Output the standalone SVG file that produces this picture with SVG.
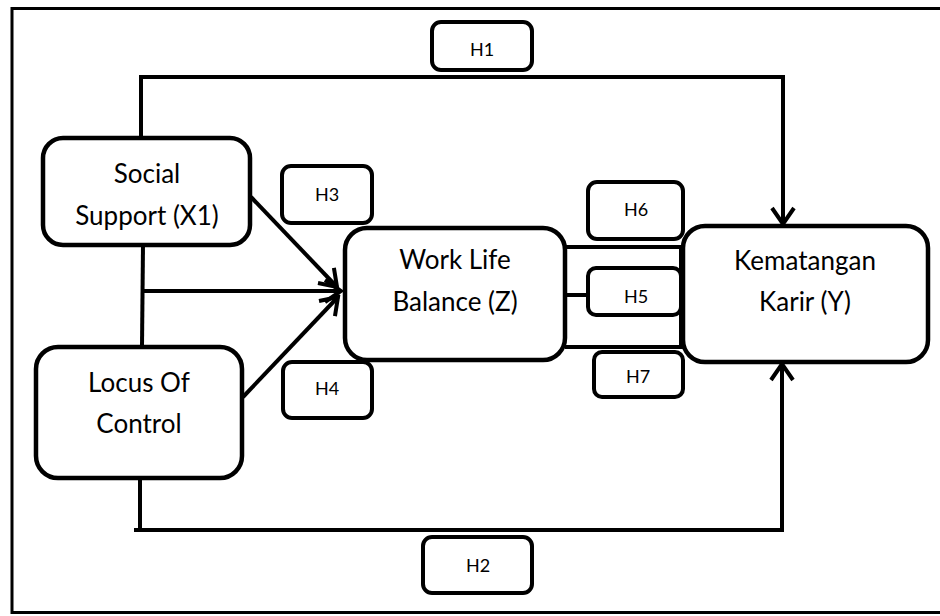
<svg xmlns="http://www.w3.org/2000/svg" width="940" height="616" viewBox="0 0 940 616">
<defs>
<style>
.node{fill:#fff;stroke:#000;stroke-width:4.5}
.hbox{fill:#fff;stroke:#000;stroke-width:4}
.lbl{font-family:Lato,"Open Sans",sans-serif;font-size:26px;fill:#000;text-anchor:middle}
.hl{font-family:Lato,"Open Sans",sans-serif;font-size:18px;fill:#000;text-anchor:middle}
.ln{fill:none;stroke:#000;stroke-width:4}
</style>
<marker id="arr" viewBox="0 0 22 26" refX="19" refY="13" markerWidth="22" markerHeight="26" markerUnits="userSpaceOnUse" orient="auto">
<path d="M3,2 L19,13 L3,24" fill="none" stroke="#000" stroke-width="4"/>
</marker>
</defs>
<rect width="940" height="616" fill="#fff"/>
<rect x="12" y="8.5" width="940" height="604" fill="none" stroke="#000" stroke-width="3"/>
<g id="connectors">
<polyline class="ln" points="141,140 141,77 783,77 783,224" marker-end="url(#arr)"/>
<line class="ln" x1="143" y1="245" x2="142" y2="347"/>
<line class="ln" x1="143" y1="291" x2="341" y2="291" marker-end="url(#arr)"/>
<line class="ln" x1="251" y1="197" x2="337" y2="287" marker-end="url(#arr)"/>
<line class="ln" x1="243" y1="397" x2="338" y2="297" marker-end="url(#arr)"/>
<polyline class="ln" points="140,478 140,530 782,530 782,364" marker-end="url(#arr)"/>
<line class="ln" x1="134" y1="530" x2="142" y2="530"/>
<line class="ln" x1="565" y1="247" x2="683" y2="247"/>
<line class="ln" x1="565" y1="295" x2="590" y2="295"/>
<line class="ln" x1="565" y1="347" x2="683" y2="347"/>
<line class="ln" x1="681" y1="247" x2="681" y2="347"/>
</g>
<g id="social-support">
<rect class="node" x="43" y="138" width="207" height="107" rx="20"/>
<text class="lbl" x="147" y="183">Social</text>
<text class="lbl" x="147" y="225">Support (X1)</text>
</g>
<g id="locus-of-control">
<rect class="node" x="36" y="347" width="206" height="131" rx="22"/>
<text class="lbl" x="139" y="392">Locus Of</text>
<text class="lbl" x="139" y="433">Control</text>
</g>
<g id="work-life-balance">
<rect class="node" x="345" y="228" width="220" height="132" rx="22"/>
<text class="lbl" x="455" y="269">Work Life</text>
<text class="lbl" x="455" y="311">Balance (Z)</text>
</g>
<g id="kematangan-karir">
<rect class="node" x="683" y="226" width="245" height="136" rx="22"/>
<text class="lbl" x="805" y="270">Kematangan</text>
<text class="lbl" x="805" y="311">Karir (Y)</text>
</g>
<g id="h1"><rect class="hbox" x="432" y="22" width="100" height="48" rx="9"/><text class="hl" x="482" y="56">H1</text></g>
<g id="h2"><rect class="hbox" x="423" y="537" width="109" height="56" rx="9"/><text class="hl" x="478" y="572">H2</text></g>
<g id="h3"><rect class="hbox" x="282" y="166" width="90" height="57" rx="9"/><text class="hl" x="327" y="201">H3</text></g>
<g id="h4"><rect class="hbox" x="283" y="362" width="89" height="56" rx="9"/><text class="hl" x="327" y="395">H4</text></g>
<g id="h6"><rect class="hbox" x="588" y="182" width="95" height="57" rx="9"/><text class="hl" x="636" y="216">H6</text></g>
<g id="h5"><rect class="hbox" x="588" y="268" width="93" height="47" rx="8"/><text class="hl" x="636" y="303">H5</text></g>
<g id="h7"><rect class="hbox" x="594" y="352" width="89" height="45" rx="8"/><text class="hl" x="638" y="383">H7</text></g>
</svg>
